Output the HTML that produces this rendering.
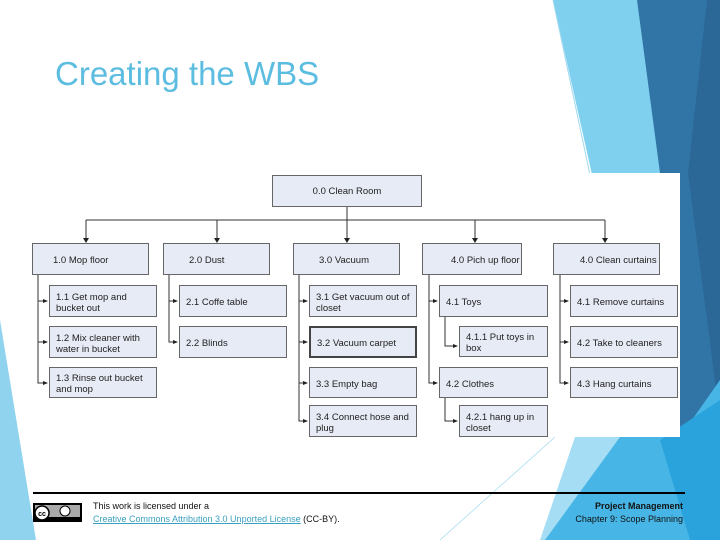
<!DOCTYPE html>
<html><head><style>
body{margin:0;width:720px;height:540px;overflow:hidden;background:#fff;position:relative;font-family:"Liberation Sans",sans-serif}
.b{position:absolute;background:#e7ebf5;border:1px solid #666;box-sizing:border-box;font-size:9.5px;color:#222;padding:3px 0 0 6px;line-height:11px;display:flex;align-items:center}
.t{position:absolute;font-size:9px;color:#111}
</style></head><body>
<svg width="720" height="540" style="position:absolute;left:0;top:0">
<polygon points="553,0 637,0 690,260 640,540 560,540 620,300" fill="#7fd0ef"/>
<polygon points="637,0 720,0 720,440 680,437 680,173 660,173" fill="#3175a6"/>
<polygon points="707,0 720,0 720,420 688,173" fill="#2b6898"/>
<polygon points="540,540 620,437 680,437 720,380 720,540" fill="#47b6e6"/>
<polygon points="660,440 720,400 720,540 690,540" fill="#2aa3dc"/>
<polygon points="575,437 620,437 545,540 540,540" fill="#a5ddf4"/>
<line x1="553" y1="0" x2="590" y2="175" stroke="#9fd9f0" stroke-width="1"/>
<polygon points="0,320 0,540 36,540" fill="#8fd3ef"/>
<rect x="30" y="173" width="650" height="264" fill="#fff"/>
<line x1="555" y1="437" x2="440" y2="540" stroke="#9fd9f0" stroke-width="0.7"/>
<g stroke="#333" stroke-width="1" fill="none">
<line x1="347" y1="207" x2="347" y2="220"/>
<line x1="86" y1="220" x2="605" y2="220"/>
<line x1="86" y1="220" x2="86" y2="240"/><line x1="217" y1="220" x2="217" y2="240"/><line x1="347" y1="220" x2="347" y2="240"/><line x1="475" y1="220" x2="475" y2="240"/><line x1="605" y1="220" x2="605" y2="240"/>
<path d="M38 275V383H47M38 301H47M38 342H47"/>
<path d="M169 275V342H177M169 301H177"/>
<path d="M299 275V421H307M299 301H307M299 342H307M299 383H307"/>
<path d="M429 275V383H437M429 301H437"/>
<path d="M445 317V346H457"/><path d="M445 398V421H457"/>
<path d="M560 275V383H568M560 301H568M560 342H568"/>
</g>
<g fill="#222">
<polygon points="83,238 89,238 86,243"/><polygon points="214,238 220,238 217,243"/><polygon points="344,238 350,238 347,243"/><polygon points="472,238 478,238 475,243"/><polygon points="602,238 608,238 605,243"/>
<polygon points="43,299 43,303 48,301"/><polygon points="43,340 43,344 48,342"/><polygon points="43,381 43,385 48,383"/>
<polygon points="173,299 173,303 178,301"/><polygon points="173,340 173,344 178,342"/>
<polygon points="303,299 303,303 308,301"/><polygon points="303,340 303,344 308,342"/><polygon points="303,381 303,385 308,383"/><polygon points="303,419 303,423 308,421"/>
<polygon points="433,299 433,303 438,301"/><polygon points="433,381 433,385 438,383"/>
<polygon points="453,344 453,348 458,346"/><polygon points="453,419 453,423 458,421"/>
<polygon points="564,299 564,303 569,301"/><polygon points="564,340 564,344 569,342"/><polygon points="564,381 564,385 569,383"/>
</g>
<line x1="33" y1="493" x2="685" y2="493" stroke="#000" stroke-width="2"/>
<rect x="33" y="503" width="49" height="19" fill="#000"/><rect x="35" y="505" width="45" height="12" fill="#aaa"/>
<circle cx="42" cy="513" r="7" fill="#fff" stroke="#000" stroke-width="1.5"/><circle cx="65" cy="511" r="5" fill="#fff" stroke="#000"/>
<text x="42" y="516" font-size="7" font-family="Liberation Sans" font-weight="bold" text-anchor="middle">cc</text>
</svg>
<div style="position:absolute;left:55px;top:55px;font-size:33px;color:#5cbde0">Creating the WBS</div>
<div class="b" style="left:272px;top:175px;width:150px;height:32px;justify-content:center;padding:0">0.0 Clean Room</div>
<div class="b" style="left:32px;top:243px;width:117px;height:32px;padding-left:20px">1.0 Mop floor</div>
<div class="b" style="left:163px;top:243px;width:107px;height:32px;padding-left:25px">2.0 Dust</div>
<div class="b" style="left:293px;top:243px;width:107px;height:32px;padding-left:25px">3.0 Vacuum</div>
<div class="b" style="left:422px;top:243px;width:100px;height:32px;padding-left:28px">4.0 Pich up floor</div>
<div class="b" style="left:553px;top:243px;width:107px;height:32px;padding-left:26px">4.0 Clean curtains</div>
<div class="b" style="left:49px;top:285px;width:108px;height:32px">1.1 Get mop and bucket out</div>
<div class="b" style="left:49px;top:326px;width:108px;height:32px">1.2 Mix cleaner with water in bucket</div>
<div class="b" style="left:49px;top:367px;width:108px;height:31px">1.3 Rinse out bucket and mop</div>
<div class="b" style="left:179px;top:285px;width:108px;height:32px">2.1 Coffe table</div>
<div class="b" style="left:179px;top:326px;width:108px;height:32px">2.2 Blinds</div>
<div class="b" style="left:309px;top:285px;width:108px;height:32px">3.1 Get vacuum out of closet</div>
<div class="b" style="left:309px;top:326px;width:108px;height:32px;border:2px solid #444">3.2 Vacuum carpet</div>
<div class="b" style="left:309px;top:367px;width:108px;height:31px">3.3 Empty bag</div>
<div class="b" style="left:309px;top:405px;width:108px;height:32px">3.4 Connect hose and plug</div>
<div class="b" style="left:439px;top:285px;width:109px;height:32px">4.1 Toys</div>
<div class="b" style="left:459px;top:326px;width:89px;height:31px">4.1.1 Put toys in box</div>
<div class="b" style="left:439px;top:367px;width:109px;height:31px">4.2 Clothes</div>
<div class="b" style="left:459px;top:405px;width:89px;height:32px">4.2.1 hang up in closet</div>
<div class="b" style="left:570px;top:285px;width:108px;height:32px">4.1 Remove curtains</div>
<div class="b" style="left:570px;top:326px;width:108px;height:32px">4.2 Take to cleaners</div>
<div class="b" style="left:570px;top:367px;width:108px;height:31px">4.3 Hang curtains</div>
<div class="t" style="left:93px;top:501px">This work is licensed under a</div>
<div class="t" style="left:93px;top:514px"><span style="color:#3aa0c0;text-decoration:underline">Creative Commons Attribution 3.0 Unported License</span> (CC-BY).</div>
<div class="t" style="right:37px;top:501px;font-weight:bold;text-align:right">Project Management</div>
<div class="t" style="right:37px;top:514px;text-align:right">Chapter 9: Scope Planning</div>
</body></html>
